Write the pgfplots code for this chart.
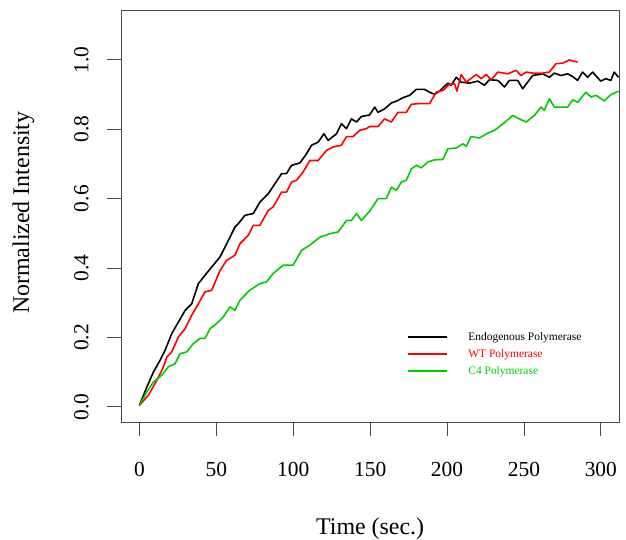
\documentclass[border=0pt]{standalone}
\usepackage{pgfplots}
\pgfplotsset{compat=1.18}
\usepackage{fontspec}
\setmainfont{Liberation Serif}
\definecolor{rgreen}{RGB}{0,205,0}
\definecolor{rred}{RGB}{255,0,0}
\begin{document}
\begin{tikzpicture}
\useasboundingbox (0,0) rectangle (626bp,540bp);
\begin{axis}[
  at={(121bp,118bp)}, anchor=south west,
  width=498.3bp, height=412bp, scale only axis,
  xmin=-12, xmax=312, ymin=-0.044, ymax=1.144,
  xtick={0,50,...,300}, ytick={0,0.2,0.4,0.6,0.8,1.0},
  tick pos=left, tick align=outside, major tick length=14bp,
  axis line style={black!70, line width=0.9bp},
  every tick/.style={black!70, line width=0.9bp},
  /pgf/number format/assume math mode=true,
  yticklabel shift=18bp,
  yticklabel style={/pgf/number format/fixed, /pgf/number format/fixed zerofill, /pgf/number format/precision=1,
     rotate=90, anchor=south, inner sep=0pt, font=\fontsize{21.5}{24}\selectfont},
  xticklabel style={anchor=base, inner sep=0pt, yshift=-41bp, font=\fontsize{21.5}{24}\selectfont},
  xlabel={Time (sec.)}, ylabel={Normalized Intensity},
  xlabel style={at={(axis description cs:0.5,-0.274)}, anchor=base, inner sep=0pt, font=\fontsize{24}{28}\selectfont},
  ylabel style={at={(axis description cs:-0.1846,0.508)}, anchor=base, rotate=0, inner sep=0pt, font=\fontsize{24}{28}\selectfont},
  legend style={at={(axis description cs:0.573,0.220)}, anchor=north west, draw=none, fill=none,
     inner sep=0pt, row sep=5.5bp, column sep=21bp, font=\fontsize{11.5}{13}\selectfont,
     nodes={inner sep=0pt, text height=8.5bp, text depth=3bp, anchor=west}},
  legend cell align=left,
  legend image code/.code={\draw[#1, line width=1.7bp] (0bp,0bp) -- (39bp,0bp);},
  every axis plot/.append style={line width=1.6bp, line join=round},
]
\addplot[black] coordinates {(0,0.004)(4.8,0.057)(9.1,0.100)(13.4,0.134)(16.7,0.163)(21,0.211)(25.3,0.244)(29.7,0.278)(34,0.297)(38.3,0.355)(42.6,0.379)(47,0.403)(52.4,0.432)(56.7,0.470)(62.1,0.518)(64.3,0.528)(68.6,0.552)(74,0.557)(78.3,0.590)(83.7,0.614)(88.1,0.643)(92.4,0.672)(95.6,0.672)(98.9,0.696)(104.3,0.703)(108,0.725)(111.9,0.754)(116.2,0.763)(119.9,0.787)(122.7,0.768)(128.1,0.787)(131.3,0.816)(134.6,0.802)(137.8,0.830)(141.1,0.821)(144.3,0.837)(149.5,0.841)(153,0.864)(155.1,0.849)(159.4,0.859)(163.8,0.876)(167,0.881)(171.3,0.891)(175.7,0.898)(180,0.915)(185.4,0.915)(188.6,0.907)(191.9,0.901)(195.1,0.910)(200.5,0.933)(202.7,0.927)(206,0.950)(209.2,0.936)(214.6,0.933)(220,0.939)(224.3,0.927)(227.6,0.943)(233,0.941)(237.3,0.922)(240.5,0.941)(245.9,0.941)(249.2,0.917)(252.4,0.936)(255.7,0.955)(262.2,0.960)(266.5,0.950)(269.8,0.962)(274.1,0.955)(278.4,0.960)(281.7,0.952)(284.9,0.941)(288.1,0.965)(291.4,0.950)(294.6,0.965)(300,0.939)(303.2,0.946)(306.5,0.941)(308.7,0.965)(311.5,0.950)};
\addlegendentry{Endogenous Polymerase}
\addplot[rred] coordinates {(0,0.004)(5.8,0.033)(11.3,0.076)(15.6,0.115)(17.8,0.144)(21,0.158)(25.3,0.201)(29.7,0.225)(34,0.264)(38.3,0.297)(42.6,0.331)(47,0.336)(52.4,0.393)(56.7,0.422)(62.1,0.437)(65.3,0.470)(70.7,0.494)(74,0.523)(78.3,0.523)(83.7,0.566)(86.9,0.576)(92.4,0.619)(95.6,0.619)(98.9,0.648)(102.1,0.653)(106.4,0.677)(110.8,0.710)(116.2,0.710)(121.6,0.739)(125.9,0.749)(131.3,0.754)(134.6,0.779)(138.9,0.779)(143.2,0.797)(147.6,0.802)(149.7,0.808)(155.1,0.808)(159.4,0.830)(163.8,0.821)(168.1,0.849)(173.5,0.849)(176.8,0.872)(181.1,0.874)(188.6,0.874)(193,0.907)(197.3,0.912)(201.6,0.930)(204.9,0.931)(206.4,0.910)(209.2,0.958)(212.5,0.936)(219,0.958)(222.2,0.946)(225.5,0.958)(228.7,0.943)(233,0.965)(239.5,0.960)(244.9,0.970)(248.1,0.955)(251.4,0.965)(255.7,0.962)(262.2,0.962)(266.5,0.965)(270.8,0.989)(275.2,0.991)(279.5,1.000)(281.7,0.997)(284.9,0.994)};
\addlegendentry{\textcolor{rred}{WT Polymerase}}
\addplot[rgreen] coordinates {(0,0.004)(4.8,0.043)(9.1,0.071)(14.5,0.091)(18.8,0.115)(23.1,0.124)(26.4,0.153)(30.7,0.158)(35,0.182)(39.4,0.197)(42.6,0.197)(45.9,0.225)(50.2,0.240)(54.5,0.259)(58.9,0.288)(62.1,0.278)(65.3,0.307)(71.8,0.336)(78.3,0.355)(82.6,0.360)(86.9,0.384)(93.4,0.408)(99.9,0.408)(105.4,0.451)(110.8,0.466)(117.3,0.489)(123.8,0.499)(129.2,0.504)(134.6,0.537)(137.8,0.537)(141.1,0.557)(144.3,0.537)(149.5,0.563)(155.1,0.600)(160.5,0.600)(163.8,0.633)(167,0.624)(170.3,0.648)(173.5,0.653)(176.8,0.686)(180,0.696)(183.3,0.689)(187.6,0.706)(191.9,0.712)(197.3,0.713)(200.5,0.744)(206,0.746)(210.3,0.758)(212.5,0.751)(215.7,0.779)(221.1,0.775)(226.5,0.789)(230.8,0.797)(235.1,0.811)(242.7,0.840)(247,0.830)(251.4,0.821)(256.8,0.840)(261.1,0.864)(263.3,0.855)(266.5,0.888)(269.8,0.864)(274.1,0.864)(278.4,0.864)(281.7,0.885)(284.9,0.878)(290.3,0.907)(293.6,0.893)(296.8,0.898)(302.2,0.882)(306.5,0.900)(311.5,0.910)};
\addlegendentry{\textcolor{rgreen}{C4 Polymerase}}
\end{axis}
\end{tikzpicture}
\end{document}
